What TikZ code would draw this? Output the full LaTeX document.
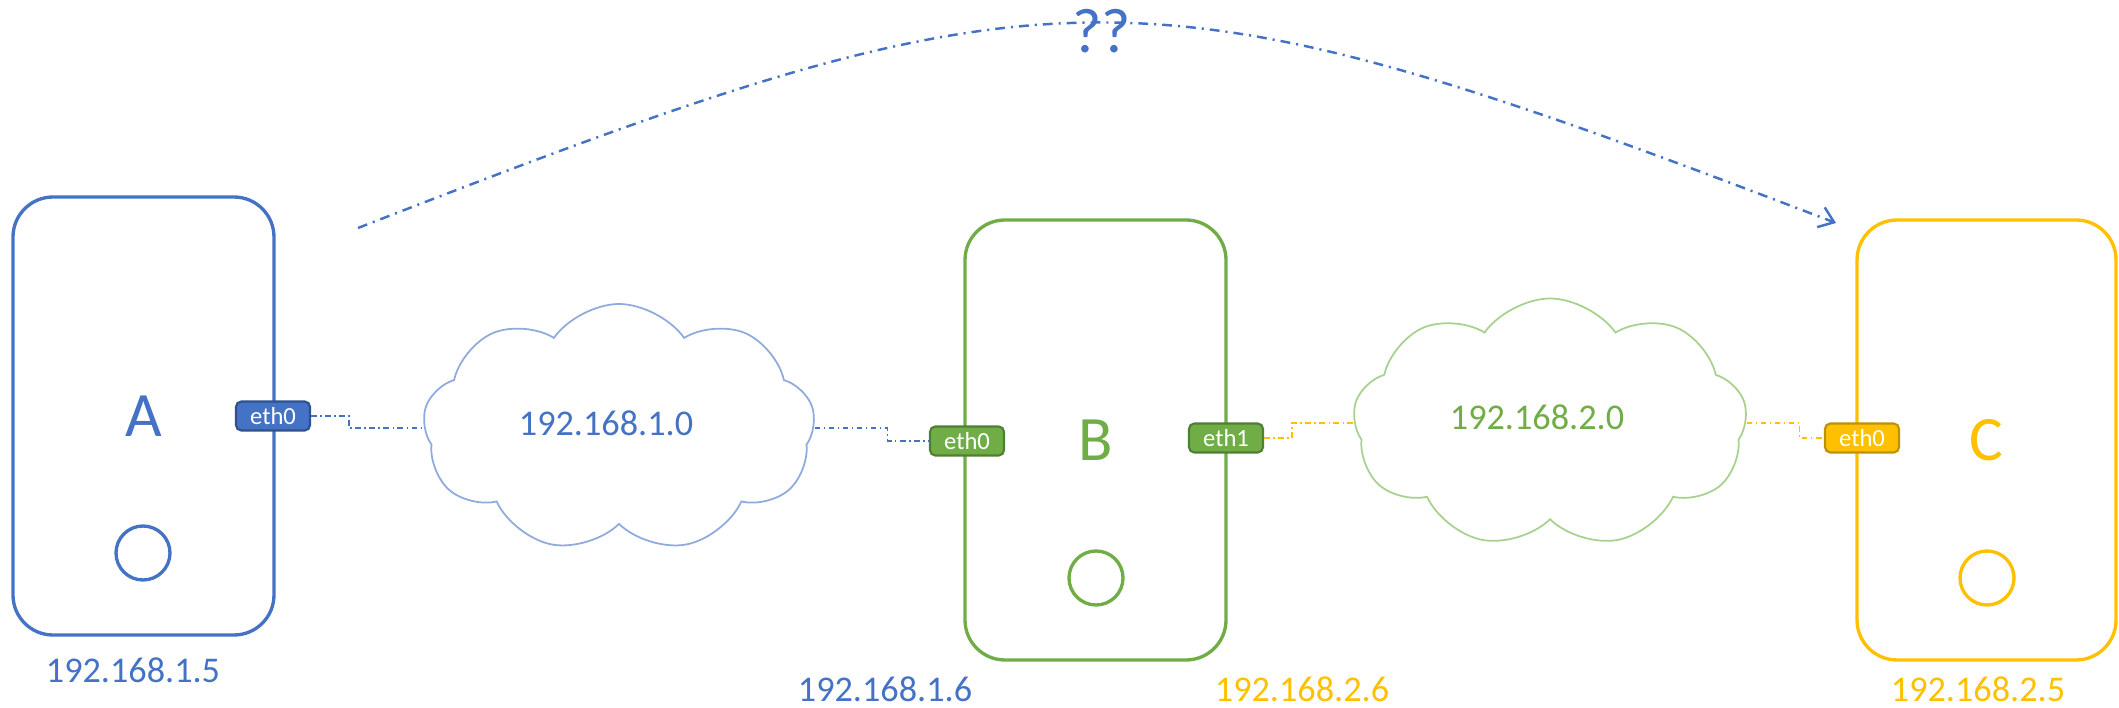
\documentclass[tikz,border=0pt]{standalone}
\usepackage{fontspec}
\setmainfont{Carlito}
\usetikzlibrary{positioning,
        shapes.symbols,
        arrows.meta}
\definecolor{hostblue}{HTML}{4472C4}
\definecolor{hostgreen}{HTML}{70AD47}
\definecolor{hostyellow}{HTML}{FFC000}
\definecolor{edgeblue}{HTML}{2F528F}
\definecolor{edgegreen}{HTML}{507E32}
\definecolor{edgeyellow}{HTML}{BF9000}
\definecolor{cloudblue}{HTML}{8FAADC}
\definecolor{cloudgreen}{HTML}{A9D18E}

\begin{document}
\begin{tikzpicture}[
        host/.style={rectangle,rounded corners=0.4cm,draw,line width=0.95pt,minimum width=2.61cm,minimum height=4.40cm,font=\fontsize{18}{18}\selectfont},
        led/.style={circle,draw,line width=0.95pt,minimum size=0.54cm,inner sep=0pt},
        port/.style={rectangle,rounded corners=1.5pt,draw,line width=0.6pt,text=white,minimum width=0.74cm,minimum height=0.29cm,inner sep=0pt,font=\fontsize{7}{7}\selectfont},
        subnet/.style={cloud,cloud puffs=9,cloud puff arc=110,cloud ignores aspect,draw,fill=white,line width=0.5pt,minimum width=3.92cm,minimum height=2.48cm,inner sep=0pt},
        addr/.style={inner sep=0pt,font=\fontsize{10.3}{10.3}\selectfont},
        wire/.style={line width=0.45pt,dash pattern=on 1.6pt off 1pt on 0.4pt off 1pt}]
            \useasboundingbox (0,0) rectangle (21.19,-7.08);

            % hosts
            \node [host,hostblue,minimum height=4.38cm] (A) at (1.435,-4.16) {A};
            \node [host,hostgreen] (B) at (10.955,-4.40) {B};
            \node [host,hostyellow,minimum width=2.59cm] (C) at (19.865,-4.40) {C};
            \node [led,hostblue] (Aled) at (1.43,-5.53) {};
            \node [led,hostgreen] (Bled) at (10.96,-5.78) {};
            \node [led,hostyellow] (Cled) at (19.87,-5.78) {};

            % interfaces
            \node [port,fill=hostblue,draw=edgeblue] (Aeth0) at (2.73,-4.16) {eth0};
            \node [port,fill=hostgreen,draw=edgegreen] (Beth0) at (9.67,-4.41) {eth0};
            \node [port,fill=hostgreen,draw=edgegreen] (Beth1) at (12.26,-4.38) {eth1};
            \node [port,fill=hostyellow,draw=edgeyellow] (Ceth0) at (18.62,-4.38) {eth0};

            % addresses
            \node [addr,hostblue] (Aip) at (1.33,-6.70) {192.168.1.5};
            \node [addr,hostblue] (Bip0) at (8.85,-6.89) {192.168.1.6};
            \node [addr,hostyellow] (Bip1) at (13.02,-6.89) {192.168.2.6};
            \node [addr,hostyellow] (Cip) at (19.78,-6.89) {192.168.2.5};

            % networks
            \node [subnet,draw=cloudblue] (net1) at (6.19,-4.28) {};
            \node [subnet,draw=cloudgreen,minimum width=3.94cm,minimum height=2.49cm] (net2) at (15.50,-4.23) {};
            \node [addr,hostblue] (net1ip) at (6.06,-4.23) {192.168.1.0};
            \node [addr,hostgreen] (net2ip) at (15.37,-4.17) {192.168.2.0};

            \draw [wire,hostblue] (Aeth0.east) -- ++(0.38,0) |- (net1.west);
            \draw [wire,hostblue] (net1.east) -- ++(0.73,0) |- (Beth0.west);
            \draw [wire,hostyellow] (Beth1.east) -- ++(0.28,0) |- (net2.west);
            \draw [wire,hostyellow] (net2.east) -- ++(0.53,0) |- (Ceth0.west);

            % route question
            \coordinate (arcstart) at (3.58,-2.28);
            \coordinate (arcend) at (18.36,-2.23);
            \draw [hostblue,line width=0.7pt,dash pattern=on 2.8pt off 1.7pt on 0.6pt off 1.7pt,-{Straight Barb[length=4pt,width=6pt]}] (arcstart) .. controls (10.6,0.45) and (11.35,0.45) .. (arcend);
            \node [hostblue,inner sep=0pt,font=\fontsize{18}{18}\selectfont] (what) at (11.02,-0.31) {??};
        \end{tikzpicture}
\end{document}
